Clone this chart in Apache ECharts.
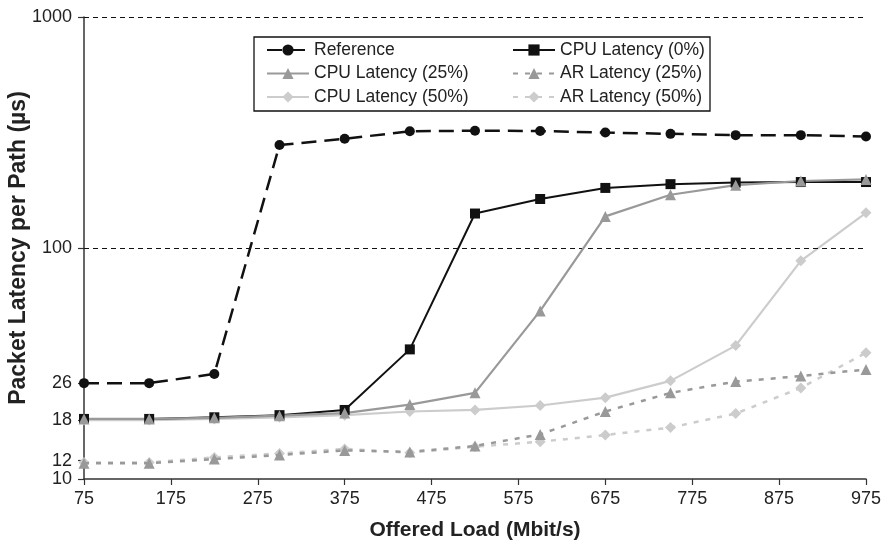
<!DOCTYPE html>
<html>
<head>
<meta charset="utf-8">
<script src="https://cdn.jsdelivr.net/npm/echarts@6/dist/echarts.min.js"></script>
<style>html,body{margin:0;padding:0;background:#fff}#c{width:884px;height:545px}</style>
</head>
<body>
<div id="c"></div>
<script>
const loads = [75, 150, 225, 300, 375, 450, 525, 600, 675, 750, 825, 900, 975];
const reference = [26, 26, 28.5, 279, 297, 320, 322, 321, 316, 312, 308, 308, 304];
const cpu0 = [18.2, 18.2, 18.5, 18.9, 19.9, 36.4, 141, 163, 182, 189, 192, 193, 193];
const cpu25 = [18.2, 18.2, 18.4, 18.8, 19.3, 21.0, 23.6, 53.4, 137, 170, 187, 195, 198];
const cpu50 = [18.0, 18.0, 18.2, 18.5, 18.9, 19.6, 19.9, 20.8, 22.5, 26.6, 37.8, 88, 142];
const ar25 = [11.7, 11.7, 12.2, 12.7, 13.3, 13.1, 13.9, 15.6, 19.6, 23.6, 26.4, 27.9, 29.8];
const ar50 = [11.8, 11.8, 12.4, 12.9, 13.5, 13.0, 13.8, 14.5, 15.5, 16.7, 19.2, 24.8, 35.2];
const xTicks = [75, 175, 275, 375, 475, 575, 675, 775, 875, 975];
const yTicks = [10, 12, 18, 26, 100, 1000];
const gridLines = [100, 1000];

const FONT = 'Liberation Sans, Arial, Helvetica, sans-serif';
const zip = (ys) => loads.map((x, i) => [x, ys[i]]);

const chart = echarts.init(document.getElementById('c'));
const legendText = { fontSize: 17.5, color: '#222', fontFamily: FONT };
chart.setOption({
  animation: false,
  backgroundColor: '#fff',
  grid: { left: 84, right: 18, top: 17, bottom: 66, containLabel: false, outerBoundsMode: 'none' },
  graphic: [{
    type: 'rect', shape: { x: 254, y: 37, width: 456, height: 74 },
    style: { fill: 'none', stroke: '#111', lineWidth: 1.3 }, z: 10
  }],
  legend: [{
    orient: 'vertical', left: 266, top: 41, itemWidth: 42, itemHeight: 14, itemGap: 5.5,
    padding: 0, textStyle: legendText,
    data: ['Reference', 'CPU Latency (25%)', 'CPU Latency (50%)']
  }, {
    orient: 'vertical', left: 512, top: 41, itemWidth: 42, itemHeight: 14, itemGap: 5.5,
    padding: 0, textStyle: legendText,
    data: ['CPU Latency (0%)', 'AR Latency (25%)', 'AR Latency (50%)']
  }],
  xAxis: {
    type: 'value', min: 75, max: 975,
    name: 'Offered Load (Mbit/s)', nameLocation: 'middle', nameGap: 41, nameMoveOverlap: false,
    nameTextStyle: { fontSize: 21, fontWeight: 'bold', color: '#222', fontFamily: FONT },
    axisLine: { onZero: false, lineStyle: { color: '#333', width: 1.5 } },
    axisTick: { customValues: xTicks, length: 6, lineStyle: { color: '#333', width: 1.2 } },
    axisLabel: { customValues: xTicks, margin: 11, fontSize: 18, color: '#222', fontFamily: FONT,
      formatter: v => String(v) },
    splitLine: { show: false }
  },
  yAxis: {
    type: 'log', logBase: 10, min: 10, max: 1000,
    name: 'Packet Latency per Path (µs)', nameLocation: 'middle', nameGap: 54, nameMoveOverlap: false,
    nameTextStyle: { fontSize: 23, fontWeight: 'bold', color: '#222', fontFamily: FONT },
    axisLine: { show: true, lineStyle: { color: '#333', width: 1.5 } },
    axisTick: { show: true, customValues: yTicks, length: 6, lineStyle: { color: '#333', width: 1.2 } },
    axisLabel: { customValues: yTicks, margin: 12, fontSize: 18, color: '#222', fontFamily: FONT,
      formatter: v => String(Math.round(v)) },
    splitLine: { show: false },
    minorTick: { show: false }
  },
  series: [
    {
      name: 'Reference', type: 'line', data: zip(reference), z: 6,
      symbol: 'circle', symbolSize: 10,
      itemStyle: { color: '#111' },
      lineStyle: { color: '#111', width: 2.5, type: [15, 8] },
      markLine: {
        silent: true, symbol: 'none', label: { show: false },
        lineStyle: { color: '#111', width: 1, type: [5, 4] },
        data: gridLines.map(v => ({ yAxis: v }))
      }
    },
    {
      name: 'CPU Latency (0%)', type: 'line', data: zip(cpu0), z: 5,
      symbol: 'rect', symbolSize: 10,
      itemStyle: { color: '#111' },
      lineStyle: { color: '#111', width: 2 }
    },
    {
      name: 'CPU Latency (25%)', type: 'line', data: zip(cpu25), z: 5,
      symbol: 'triangle', symbolSize: 11,
      itemStyle: { color: '#999' },
      lineStyle: { color: '#999', width: 2.2 }
    },
    {
      name: 'CPU Latency (50%)', type: 'line', data: zip(cpu50), z: 4,
      symbol: 'diamond', symbolSize: 11,
      itemStyle: { color: '#ccc' },
      lineStyle: { color: '#ccc', width: 2.2 }
    },
    {
      name: 'AR Latency (25%)', type: 'line', data: zip(ar25), z: 4,
      symbol: 'triangle', symbolSize: 11,
      itemStyle: { color: '#999' },
      lineStyle: { color: '#999', width: 2.5, type: [5, 7] }
    },
    {
      name: 'AR Latency (50%)', type: 'line', data: zip(ar50), z: 3,
      symbol: 'diamond', symbolSize: 11,
      itemStyle: { color: '#ccc' },
      lineStyle: { color: '#ccc', width: 2.5, type: [5, 7] }
    }
  ]
});
</script>
</body>
</html>
